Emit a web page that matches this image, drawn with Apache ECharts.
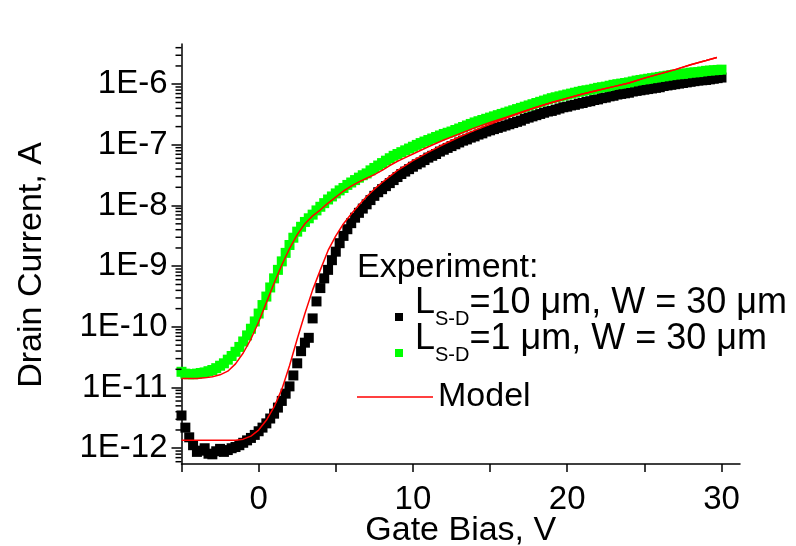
<!DOCTYPE html>
<html><head><meta charset="utf-8">
<script src="https://cdn.jsdelivr.net/npm/echarts@6/dist/echarts.min.js"></script>
<style>html,body{margin:0;padding:0;background:#fff}#c{width:796px;height:546px}</style>
</head><body><div id="c"></div>
<script>
// Gate bias (V) of the experimental points
const gateBias = [
-5,-4.75,-4.5,-4.25,-4,-3.75,-3.5,-3.25,-3,-2.75,-2.5,-2.25,-2,-1.75,-1.5,-1.25,-1,-0.75,-0.5,-0.25,
0,0.25,0.5,0.75,1,1.25,1.5,1.75,2,2.25,2.5,2.75,3,3.25,3.5,3.75,4,4.25,4.5,4.75,
5,5.25,5.5,5.75,6,6.25,6.5,6.75,7,7.25,7.5,7.75,8,8.25,8.5,8.75,9,9.25,9.5,9.75,
10,10.25,10.5,10.75,11,11.25,11.5,11.75,12,12.25,12.5,12.75,13,13.25,13.5,13.75,14,14.25,14.5,14.75,
15,15.25,15.5,15.75,16,16.25,16.5,16.75,17,17.25,17.5,17.75,18,18.25,18.5,18.75,19,19.25,19.5,19.75,
20,20.25,20.5,20.75,21,21.25,21.5,21.75,22,22.25,22.5,22.75,23,23.25,23.5,23.75,24,24.25,24.5,24.75,
25,25.25,25.5,25.75,26,26.25,26.5,26.75,27,27.25,27.5,27.75,28,28.25,28.5,28.75,29,29.25,29.5,29.75,30];
// log10 of drain current (A), L_S-D = 10 um
const logI_L10 = [
-11.46,-11.66,-11.82,-11.95,-12.06,-12.04,-12.00,-12.09,-12.10,-12.05,-12.01,-12.06,-12.03,-12.00,-11.98,-11.95,-11.91,-11.87,-11.83,-11.78,
-11.72,-11.66,-11.59,-11.51,-11.43,-11.33,-11.22,-11.10,-10.98,-10.80,-10.60,-10.40,-10.26,-10.18,-9.86,-9.58,-9.36,-9.20,-9.06,-8.90,
-8.76,-8.62,-8.50,-8.39,-8.29,-8.20,-8.12,-8.05,-7.98,-7.91,-7.84,-7.78,-7.73,-7.68,-7.63,-7.58,-7.53,-7.48,-7.44,-7.40,
-7.36,-7.32,-7.29,-7.25,-7.21,-7.18,-7.15,-7.11,-7.08,-7.05,-7.02,-6.99,-6.96,-6.93,-6.91,-6.88,-6.86,-6.83,-6.81,-6.78,
-6.76,-6.74,-6.72,-6.70,-6.68,-6.66,-6.64,-6.62,-6.60,-6.57,-6.55,-6.53,-6.51,-6.49,-6.47,-6.45,-6.44,-6.42,-6.40,-6.38,
-6.37,-6.35,-6.34,-6.32,-6.31,-6.29,-6.28,-6.26,-6.25,-6.23,-6.22,-6.20,-6.19,-6.17,-6.16,-6.15,-6.14,-6.12,-6.11,-6.10,
-6.09,-6.08,-6.07,-6.06,-6.05,-6.03,-6.02,-6.01,-6.00,-5.99,-5.98,-5.97,-5.96,-5.95,-5.94,-5.935,-5.93,-5.92,-5.91,-5.90,-5.89];
// log10 of drain current (A), L_S-D = 1 um
const logI_L1 = [
-10.74,-10.77,-10.78,-10.78,-10.77,-10.76,-10.75,-10.73,-10.71,-10.68,-10.64,-10.60,-10.54,-10.48,-10.41,-10.33,-10.24,-10.14,-10.03,-9.91,
-9.78,-9.64,-9.50,-9.35,-9.20,-9.06,-8.92,-8.78,-8.65,-8.53,-8.43,-8.35,-8.27,-8.21,-8.15,-8.08,-8.02,-7.96,-7.90,-7.85,
-7.80,-7.75,-7.71,-7.66,-7.62,-7.58,-7.54,-7.50,-7.47,-7.42,-7.38,-7.34,-7.30,-7.26,-7.22,-7.18,-7.15,-7.12,-7.09,-7.06,
-7.03,-7.00,-6.97,-6.945,-6.92,-6.895,-6.87,-6.845,-6.82,-6.80,-6.78,-6.755,-6.73,-6.705,-6.68,-6.655,-6.63,-6.61,-6.59,-6.57,
-6.55,-6.53,-6.51,-6.49,-6.47,-6.45,-6.43,-6.41,-6.39,-6.37,-6.35,-6.33,-6.31,-6.29,-6.27,-6.25,-6.23,-6.215,-6.20,-6.185,
-6.17,-6.155,-6.14,-6.125,-6.11,-6.10,-6.09,-6.075,-6.06,-6.05,-6.04,-6.025,-6.01,-6.00,-5.99,-5.98,-5.97,-5.955,-5.94,-5.93,
-5.92,-5.91,-5.90,-5.89,-5.88,-5.87,-5.86,-5.85,-5.84,-5.835,-5.83,-5.82,-5.81,-5.805,-5.80,-5.79,-5.78,-5.775,-5.77,-5.765,-5.76];
// Model curves
const modelBias = [-5,-4.5,-4,-3.5,-3,-2.5,-2,-1.5,-1,-0.5,0,0.5,1,1.5,2,2.5,3,3.5,4,4.5,5,5.5,6,6.5,7,7.5,8,8.5,9,9.5,10,11,12,13,14,15,16,17,18,19,20,21,22,23,24,25,26,27,28,29,29.7];
const modelLogI_L1 = [-10.85,-10.85,-10.85,-10.84,-10.82,-10.79,-10.73,-10.61,-10.43,-10.20,-9.92,-9.60,-9.28,-8.98,-8.71,-8.48,-8.30,-8.17,-8.07,-7.96,-7.86,-7.76,-7.68,-7.61,-7.55,-7.49,-7.42,-7.34,-7.27,-7.21,-7.15,-7.03,-6.92,-6.82,-6.72,-6.63,-6.55,-6.46,-6.38,-6.30,-6.23,-6.16,-6.10,-6.04,-5.98,-5.90,-5.83,-5.76,-5.68,-5.61,-5.56];
const modelLogI_L10 = [-11.87,-11.87,-11.87,-11.87,-11.87,-11.87,-11.87,-11.87,-11.85,-11.80,-11.70,-11.54,-11.32,-11.03,-10.64,-10.20,-9.78,-9.39,-9.06,-8.74,-8.50,-8.30,-8.14,-7.99,-7.85,-7.73,-7.62,-7.52,-7.42,-7.34,-7.26,-7.12,-6.99,-6.87,-6.76,-6.66,-6.56,-6.47,-6.38,-6.30,-6.23,-6.16,-6.10,-6.04,-5.98,-5.90,-5.83,-5.76,-5.68,-5.61,-5.56];
// Axis ticks
const xTickValues = [-5,0,5,10,15,20,25,30];
const xLabelValues = [0,10,20,30];
const yMajor = [1e-12,1e-11,1e-10,1e-9,1e-8,1e-7,1e-6];
const yTickLabels = ['1E-12','1E-11','1E-10','1E-9','1E-8','1E-7','1E-6'];
const minorMantissas = [2,3,4,5,6,7,8,9];
const minorDecades = [-13,-12,-11,-10,-9,-8,-7,-6];
const X_MIN = -5, X_MAX = 31.2;
const Y_MIN = 5.5e-13, Y_MAX = 4.6e-6;

const NAME_L10 = 'L_S-D=10 um, W = 30 um';
const NAME_L1 = 'L_S-D=1 um, W = 30 um';
const FONT = "'Liberation Sans', Arial, sans-serif";

const toPairs = (xs, ls) => xs.map((x, i) => [x, Math.pow(10, ls[i])]);
const minorTicks = [];
minorDecades.forEach(d => minorMantissas.forEach(m => {
  const v = m * Math.pow(10, d);
  if (v > Y_MIN && v < Y_MAX) minorTicks.push([X_MIN, v]);
}));

const rich = {
  a0: {fontSize: 36, fontFamily: FONT, color: '#000', padding: [0, 0, 28, 7]},
  a: {fontSize: 36, fontFamily: FONT, color: '#000', padding: [0, 0, 28, 0]},
  s: {fontSize: 20, fontFamily: FONT, color: '#000', padding: [5, 0, 0, 0]}
};
const legendLabel = {
  [NAME_L10]: '{a0|L}{s|S-D}{a|=10 \u03bcm, W = 30 \u03bcm}',
  [NAME_L1]: '{a0|L}{s|S-D}{a|=1 \u03bcm, W = 30 \u03bcm}'
};

const chart = echarts.init(document.getElementById('c'));
chart.setOption({
  animation: false,
  backgroundColor: '#fff',
  grid: {left: 181.5, right: 56, top: 44, bottom: 82, outerBoundsMode: 'none'},
  title: {
    text: 'Experiment:', left: 357, top: 251, padding: 0,
    textStyle: {fontSize: 34, fontWeight: 'normal', fontFamily: FONT, color: '#000'}
  },
  legend: [
    {data: [NAME_L10], left: 395, top: 285, padding: 0, itemWidth: 8, itemHeight: 8, icon: 'rect',
     formatter: n => legendLabel[n], textStyle: {rich: rich}},
    {data: [NAME_L1], left: 395, top: 321, padding: 0, itemWidth: 8, itemHeight: 8, icon: 'rect',
     formatter: n => legendLabel[n], textStyle: {rich: rich}},
    {data: ['Model'], left: 357, top: 380, padding: 0, itemWidth: 76, itemHeight: 1.5, icon: 'rect',
     textStyle: {fontSize: 34, fontFamily: FONT, color: '#000'}}
  ],
  xAxis: {
    type: 'value', min: X_MIN, max: X_MAX, interval: 5,
    name: 'Gate Bias, V', nameLocation: 'middle', nameGap: 50, nameMoveOverlap: false,
    nameTextStyle: {fontSize: 34, fontFamily: FONT, color: '#000'},
    axisLine: {show: true, onZero: false, lineStyle: {color: '#000', width: 1.5}},
    axisTick: {show: true, length: 8, customValues: xTickValues, lineStyle: {color: '#000', width: 1.5}},
    axisLabel: {customValues: xLabelValues, margin: 19, fontSize: 33, fontFamily: FONT, color: '#000'},
    splitLine: {show: false}
  },
  yAxis: {
    type: 'log', logBase: 10, min: Y_MIN, max: Y_MAX,
    name: 'Drain Current, A', nameLocation: 'middle', nameGap: 133,
    nameTextStyle: {fontSize: 34, fontFamily: FONT, color: '#000', padding: [0, 22, 0, 0]},
    axisLine: {show: true, onZero: false, lineStyle: {color: '#000', width: 1.5}},
    axisTick: {show: true, length: 10, customValues: yMajor, lineStyle: {color: '#000', width: 1.5}},
    axisLabel: {
      customValues: yMajor, margin: 14, fontSize: 33, fontFamily: FONT, color: '#000',
      formatter: v => {
        const i = yMajor.findIndex(t => Math.abs(Math.log10(t) - Math.log10(v)) < 1e-6);
        return i >= 0 ? yTickLabels[i] : '';
      }
    },
    splitLine: {show: false}
  },
  series: [
    {name: NAME_L10, type: 'scatter', symbol: 'rect', symbolSize: 10,
     itemStyle: {color: '#000', opacity: 1}, data: toPairs(gateBias, logI_L10), z: 2},
    {name: NAME_L1, type: 'scatter', symbol: 'rect', symbolSize: 10,
     itemStyle: {color: '#00ff00', opacity: 1}, data: toPairs(gateBias, logI_L1), z: 3},
    {name: 'Model', type: 'line', symbol: 'none', lineStyle: {color: '#ff0000', width: 1.5},
     itemStyle: {color: '#ff0000'}, data: toPairs(modelBias, modelLogI_L10), z: 4},
    {name: 'Model', type: 'line', symbol: 'none', lineStyle: {color: '#ff0000', width: 1.5},
     itemStyle: {color: '#ff0000'}, data: toPairs(modelBias, modelLogI_L1), z: 4},
    {name: 'minorTicks', type: 'custom', clip: false, silent: true, data: minorTicks, z: 5,
     renderItem: (params, api) => {
       const p = api.coord([api.value(0), api.value(1)]);
       return {type: 'line', shape: {x1: p[0] - 6, y1: p[1], x2: p[0], y2: p[1]},
               style: {stroke: '#000', lineWidth: 1.5}};
     }}
  ]
});
</script></body></html>
